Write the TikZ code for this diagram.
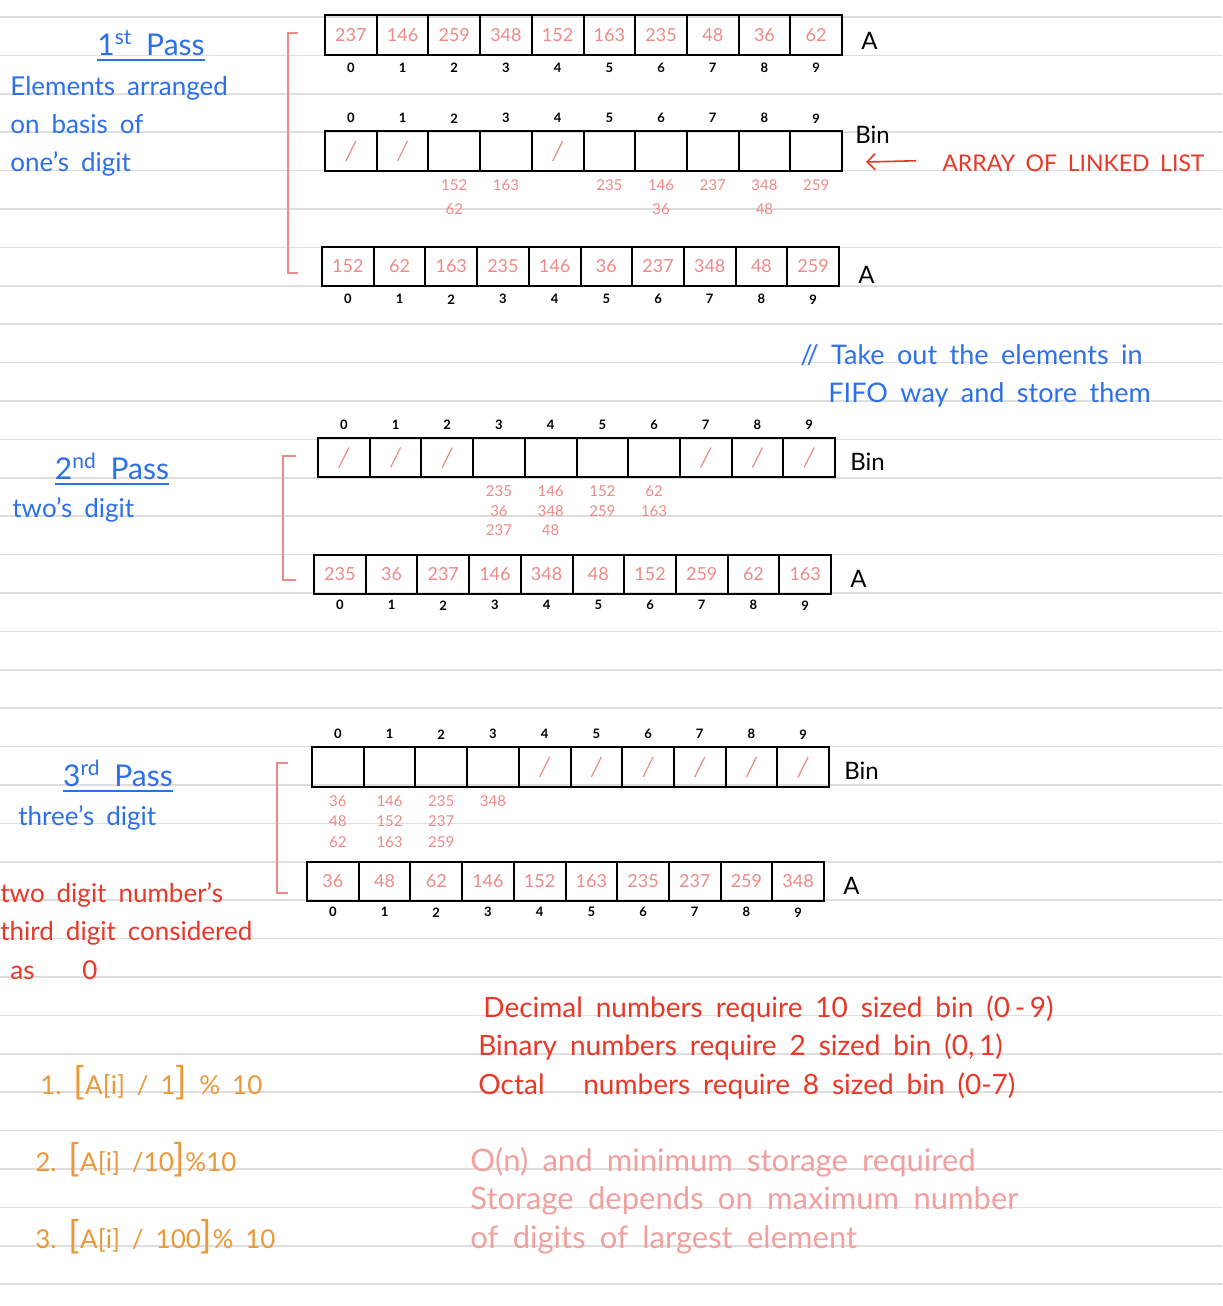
\documentclass[tikz,border=0pt]{standalone}
\usepackage{fontspec}
\setmainfont{Lato}[WordSpace=1.8]
\usetikzlibrary{arrows.meta}
\definecolor{inkblue}{RGB}{45,112,235}
\definecolor{inkpink}{RGB}{238,138,136}
\definecolor{inkred}{RGB}{232,56,40}
\definecolor{inkorange}{RGB}{234,152,58}
\definecolor{inksoft}{RGB}{241,160,160}
\definecolor{rulegray}{RGB}{222,222,222}
\tikzstyle{cell}=[draw, line width=1pt, inner sep=0pt, minimum width=25.85pt, minimum height=19.75pt, text=inkpink, font=\fontsize{9}{9}\selectfont]
\tikzstyle{idx}=[inner sep=0pt, font=\fontsize{6.5}{6.5}\selectfont\bfseries]
\tikzstyle{val}=[inner sep=0pt, text=inkpink, font=\fontsize{7.5}{7.5}\selectfont]
\tikzstyle{slash}=[draw=inkpink, line width=0.6pt]
\tikzstyle{bracket}=[draw=inkpink, line width=0.9pt]
\tikzstyle{ruling}=[draw=rulegray, line width=0.75pt]
\tikzstyle{note}=[anchor=base west, inner sep=0pt, font=\fontsize{13}{13}\selectfont]
\tikzstyle{title}=[anchor=base, inner sep=0pt, text=inkblue, font=\fontsize{15}{15}\selectfont]
\tikzstyle{uline}=[draw=inkblue, line width=1.2pt]
\tikzstyle{rowlabel}=[anchor=west, inner sep=0pt, font=\fontsize{12}{12}\selectfont]
\newcommand{\cellrow}[4]{%
  \foreach \v [count=\i from 0] in {#4}
    \node[cell] (#1-\i) at ({#2+51.7*(\i+0.5)}, #3) {\v};}
\newcommand{\idxrow}[3]{%
  \foreach \i in {0,...,9}
    \node[idx] (#1i\i) at ([yshift=#3]#1-\i.#2) {\i};}
\newcommand{\binlist}[3]{%
  \foreach \c/\vals in {#3}
    \foreach \v [count=\k from 0] in \vals
      \node[val] (#1l\c\k) at ([yshift={-6.5pt-\k*#2}]#1-\c.south) {\v};}
\newcommand{\bigbr}[1]{{\fontsize{19}{19}\selectfont#1}}

\begin{document}
\begin{tikzpicture}[x=0.5pt, y=-0.5pt]
\fill[white] (0,0) rectangle (1222,1306);
\useasboundingbox (0,0) rectangle (1222,1306);
\foreach \k in {0,...,33}
  \draw[ruling] (0,{17+38.4*\k}) -- (1222,{17+38.4*\k});

% first pass
\node[title] (t1) at (151,55) {1\textsuperscript{st} Pass};
\draw[uline] ([yshift=-2.5pt]t1.base west) -- ([yshift=-2.5pt]t1.base east);
\node[note, text=inkblue] (n1) at (10,95) {Elements arranged};
\node[note, text=inkblue] (n2) at (10,133) {on basis of};
\node[note, text=inkblue] (n3) at (10,171) {one's digit};
\cellrow{a1}{325}{35}{237,146,259,348,152,163,235,48,36,62}
\idxrow{a1}{south}{-6pt}
\node[rowlabel] (a1lab) at ([xshift=9pt, yshift=-3pt]a1-9.east) {A};
\cellrow{b1}{325}{151}{{},{},{},{},{},{},{},{},{},{}}
\idxrow{b1}{north}{6pt}
\node[rowlabel] (b1lab) at ([xshift=6pt, yshift=8pt]b1-9.east) {Bin};
\foreach \i in {0,1,4}
  \draw[slash] ([shift={(-2.5pt,-5pt)}]b1-\i.center) -- ([shift={(2.5pt,5pt)}]b1-\i.center);
\binlist{b1}{12pt}{2/{152,62},3/{163},5/{235},6/{146,36},7/{237},8/{348,48},9/{259}}
\cellrow{c1}{322}{266.5}{152,62,163,235,146,36,237,348,48,259}
\idxrow{c1}{south}{-6pt}
\node[rowlabel] (c1lab) at ([xshift=9pt, yshift=-4pt]c1-9.east) {A};
\draw[bracket] (298,33) -- (288,33) -- (288,273) -- (298,273);
\node[note, text=inkred, font=\fontsize{11.5}{11.5}\selectfont] (lltext) at (942,171) {ARRAY OF LINKED LIST};
\coordinate (arrtip) at (866,162);
\draw[inkred, line width=0.8pt, -{Straight Barb[length=4pt]}] ([xshift=-13pt, yshift=1pt]lltext.west) -- (arrtip);

\node[note, text=inkblue, font=\fontsize{13.5}{13.5}\selectfont] (c1note) at (800,364) {// Take out the elements in};
\node[note, text=inkblue, font=\fontsize{13.5}{13.5}\selectfont] (c2note) at (828,402) {FIFO way and store them};

% second pass
\node[title] (t2) at (112,479) {2\textsuperscript{nd} Pass};
\draw[uline] ([yshift=-2.5pt]t2.base west) -- ([yshift=-2.5pt]t2.base east);
\node[note, text=inkblue] (n4) at (12,517) {two's digit};
\cellrow{b2}{318}{457.5}{{},{},{},{},{},{},{},{},{},{}}
\idxrow{b2}{north}{6pt}
\node[rowlabel] (b2lab) at ([xshift=7pt, yshift=-2pt]b2-9.east) {Bin};
\foreach \i in {0,1,2,7,8,9}
  \draw[slash] ([shift={(-2.5pt,-5pt)}]b2-\i.center) -- ([shift={(2.5pt,5pt)}]b2-\i.center);
\binlist{b2}{9.75pt}{3/{235,36,237},4/{146,348,48},5/{152,259},6/{62,163}}
\cellrow{a2}{314}{574.5}{235,36,237,146,348,48,152,259,62,163}
\idxrow{a2}{south}{-5pt}
\node[rowlabel] (a2lab) at ([xshift=9pt, yshift=-2pt]a2-9.east) {A};
\draw[bracket] (296,456) -- (283,456) -- (283,580) -- (296,580);

% third pass
\node[title] (t3) at (118,786) {3\textsuperscript{rd} Pass};
\draw[uline] ([yshift=-2.5pt]t3.base west) -- ([yshift=-2.5pt]t3.base east);
\node[note, text=inkblue] (n5) at (18,825) {three's digit};
\cellrow{b3}{312}{767}{{},{},{},{},{},{},{},{},{},{}}
\idxrow{b3}{north}{6pt}
\node[rowlabel] (b3lab) at ([xshift=7pt, yshift=-2pt]b3-9.east) {Bin};
\foreach \i in {4,...,9}
  \draw[slash] ([shift={(-2.5pt,-5pt)}]b3-\i.center) -- ([shift={(2.5pt,5pt)}]b3-\i.center);
\binlist{b3}{10.25pt}{0/{36,48,62},1/{146,152,163},2/{235,237,259},3/{348}}
\cellrow{a3}{307}{881.5}{36,48,62,146,152,163,235,237,259,348}
\idxrow{a3}{south}{-5pt}
\node[rowlabel] (a3lab) at ([xshift=9pt, yshift=-2pt]a3-9.east) {A};
\draw[bracket] (288,763) -- (277,763) -- (277,893) -- (288,893);

\node[note, text=inkred] (r1) at (0,902) {two digit number's};
\node[note, text=inkred] (r2) at (0,940) {third digit considered};
\node[note, text=inkred] (r3) at (10,979) {as\ \ \ \ 0};

% formulas and notes
\node[note, text=inkorange, font=\fontsize{13}{13}\selectfont] (f1) at (40,1094) {1.\ \bigbr{[}A[i] / 1\bigbr{]} \% 10};
\node[note, text=inkorange, font=\fontsize{13}{13}\selectfont] (f2) at (35,1171) {2.\ \bigbr{[}A[i] /10\bigbr{]}\%10};
\node[note, text=inkorange, font=\fontsize{13}{13}\selectfont] (f3) at (35,1248) {3.\ \bigbr{[}A[i] / 100\bigbr{]}\% 10};
\node[note, text=inkred, font=\fontsize{14}{14}\selectfont] (d1) at (483,1017) {Decimal numbers require 10 sized bin (0\,-\,9)};
\node[note, text=inkred, font=\fontsize{14}{14}\selectfont] (d2) at (478,1055) {Binary numbers require 2 sized bin (0,\,1)};
\node[note, text=inkred, font=\fontsize{14}{14}\selectfont] (d3) at (478,1094) {Octal\ \ \ numbers require 8 sized bin (0-7)};
\node[note, text=inksoft, font=\fontsize{15.5}{15.5}\selectfont] (s1) at (470,1171) {O(n) and minimum storage required};
\node[note, text=inksoft, font=\fontsize{15.5}{15.5}\selectfont] (s2) at (470,1209) {Storage depends on maximum number};
\node[note, text=inksoft, font=\fontsize{15.5}{15.5}\selectfont] (s3) at (470,1248) {of digits of largest element};
\end{tikzpicture}
\end{document}
